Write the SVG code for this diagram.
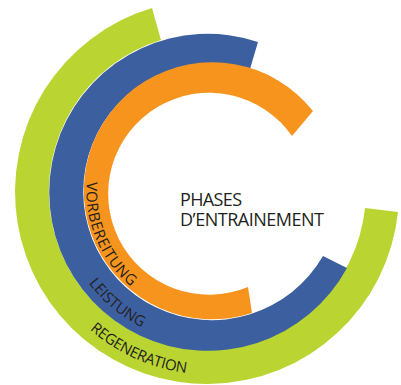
<svg xmlns="http://www.w3.org/2000/svg" width="401" height="385" viewBox="0 0 401 385">
<style>
.lbl{font-family:"Open Sans","Noto Sans","Liberation Sans",sans-serif;fill:#231f20;}
.ring{font-size:15px;}
.title{font-size:18px;}
</style>
<defs>
<path id="pOrange" d="M 86.88 181.81 A 123.5 123.5 0 0 0 199.24 314.53"/>
<path id="pBlue" d="M 88.61 282.97 A 152 152 0 0 0 223.25 342.92"/>
<path id="pGreen" d="M 89.93 329.61 A 183 183 0 0 0 257.36 368.27"/>
</defs>
<rect width="401" height="385" fill="#ffffff"/>
<g id="regeneration">
<path d="M 398 212 A 192 192 0 1 1 152 8 L 161 40 A 158.5 158.5 0 1 0 365 208 Z" fill="#bad532"/>
<text class="lbl ring"><textPath href="#pGreen" startOffset="0" textLength="107" lengthAdjust="spacing">REGENERATION</textPath></text>
</g>
<g id="leistung">
<path d="M 347 268 A 158.5 158.5 0 1 1 258 42 L 250 69 A 128.5 128.5 0 1 0 323 256 Z" fill="#3c5fa0"/>
<text class="lbl ring"><textPath href="#pBlue" startOffset="0" textLength="70" lengthAdjust="spacing">LEISTUNG</textPath></text>
</g>
<g id="vorbereitung">
<path d="M 252 313 A 128.5 128.5 0 1 1 313 111 L 292 136 A 101 101 0 1 0 248 287 Z" fill="#f7941d"/>
<text class="lbl ring"><textPath href="#pOrange" startOffset="0" textLength="118" lengthAdjust="spacing">VORBEREITUNG</textPath></text>
</g>
<g id="center">
<text class="lbl title" x="180" y="206" textLength="62" lengthAdjust="spacing">PHASES</text>
<text class="lbl title" x="180" y="226" textLength="144" lengthAdjust="spacing">D’ENTRAINEMENT</text>
</g>
</svg>
